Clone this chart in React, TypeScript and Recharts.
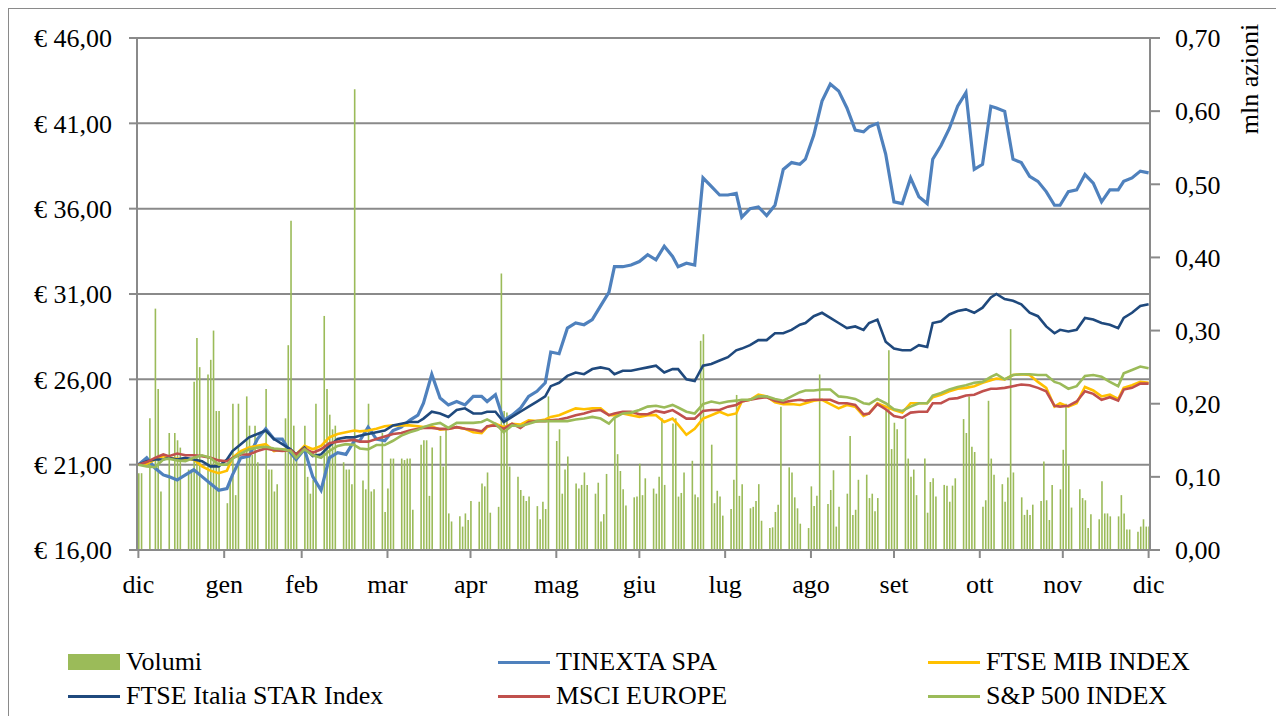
import React from 'react';
import { ComposedChart, Bar, Line, XAxis, YAxis, CartesianGrid } from 'recharts';

// calendar days from 31 dic 2020 to 31 dic 2021, month ticks as in the source sheet
const monthLabels = ['dic', 'gen', 'feb', 'mar', 'apr', 'mag', 'giu', 'lug', 'ago', 'set', 'ott', 'nov', 'dic'];
const monthTickDays = [0, 31, 59, 90, 120, 151, 181, 212, 243, 273, 304, 334, 365];
const priceTicks = [16, 21, 26, 31, 36, 41, 46];
const volumeTicks = [0, 0.1, 0.2, 0.3, 0.4, 0.5, 0.6, 0.7];

const tinexta = [
  21.0, 21.4, 20.8, 20.4, 20.3, 20.1, 20.4, 20.7, 20.3, 19.9,
  19.5, 19.6, 20.4, 21.4, 21.5, 22.5, 23.1, 22.5, 22.5, 21.7,
  21.3, 21.9, 20.3, 19.5, 21.4, 21.7, 21.6, 22.4, 22.4, 23.2,
  22.5, 22.4, 23.0, 23.2, 23.6, 23.9, 24.6, 26.3, 24.9, 24.5,
  24.7, 24.5, 25.0, 25.0, 24.7, 25.1, 23.6, 23.9, 24.3, 25.0,
  25.3, 25.8, 27.6, 27.5, 29.0, 29.3, 29.2, 29.5, 30.3, 31.1,
  32.6, 32.6, 32.7, 32.9, 33.3, 33.0, 33.8, 33.2, 32.6, 32.8,
  32.7, 37.8, 37.3, 36.8, 36.8, 36.9, 35.5, 36.0, 36.1, 35.6,
  36.2, 38.3, 38.7, 38.6, 38.9, 40.3, 42.3, 43.3, 42.9, 41.9,
  40.6, 40.5, 40.8, 41.0, 39.2, 36.4, 36.3, 37.8, 36.7, 36.3,
  38.9, 39.7, 40.7, 42.0, 42.8, 38.3, 38.6, 42.0, 41.9, 41.7,
  38.9, 38.7, 37.9, 37.6, 37.0, 36.2, 36.2, 37.0, 37.1, 38.0,
  37.5, 36.4, 37.1, 37.1, 37.6, 37.8, 38.2, 38.1,
];

const ftseMib = [
  21.0, 21.06, 21.3, 21.5, 21.4, 21.35, 21.3, 21.3, 20.9, 20.65,
  20.5, 20.65, 21.4, 21.8, 22.0, 22.1, 22.2, 21.8, 21.9, 21.8,
  21.6, 22.1, 21.9, 22.1, 22.6, 22.8, 22.9, 23.0, 22.95, 23.0,
  23.1, 23.25, 23.3, 23.3, 23.3, 23.25, 23.2, 23.25, 23.05, 23.1,
  23.2, 23.1, 22.9, 22.85, 23.2, 23.4, 23.2, 23.4, 23.35, 23.6,
  23.55, 23.65, 23.8, 23.9, 24.1, 24.3, 24.25, 24.3, 24.3, 23.9,
  23.9, 24.0, 23.9, 23.8, 23.9, 23.9, 23.5, 23.7, 23.35, 22.75,
  23.1, 23.7, 23.9, 24.1, 23.9, 24.0, 24.7, 24.8, 25.1, 25.0,
  24.65, 24.55, 24.55, 24.5, 24.6, 24.75, 24.8, 24.55, 24.3, 24.5,
  24.4, 23.85, 24.0, 24.6, 24.4, 24.2, 24.05, 24.6, 24.6, 24.6,
  24.95, 25.1, 25.3, 25.45, 25.5, 25.6, 25.8, 25.95, 26.05, 26.0,
  26.25, 26.3, 26.25, 25.85, 25.5, 24.4, 24.6, 24.4, 24.6, 25.55,
  25.35, 25.0, 25.1, 24.85, 25.5, 25.65, 25.85, 25.8,
];

const ftseStar = [
  21.0, 21.2, 21.3, 21.3, 21.4, 21.3, 21.4, 21.3, 21.2, 20.9,
  20.9, 21.3, 21.8, 22.2, 22.6, 22.8, 23.0, 22.5, 22.2, 21.9,
  21.6, 22.0, 21.5, 21.6, 22.1, 22.5, 22.6, 22.6, 22.7, 22.8,
  22.9, 23.0, 23.3, 23.4, 23.5, 23.5, 23.7, 24.1, 24.0, 23.8,
  24.2, 24.3, 24.0, 24.0, 24.1, 24.1, 23.5, 23.8, 24.1, 24.4,
  24.7, 25.0, 25.6, 25.8, 26.2, 26.4, 26.3, 26.6, 26.7, 26.6,
  26.3, 26.5, 26.5, 26.6, 26.7, 26.8, 26.4, 26.6, 26.6, 26.0,
  25.9, 26.8, 26.9, 27.1, 27.3, 27.7, 27.8, 28.0, 28.3, 28.3,
  28.7, 28.7, 28.9, 29.2, 29.3, 29.7, 29.9, 29.6, 29.3, 29.0,
  29.1, 28.9, 29.3, 29.5, 28.2, 27.8, 27.7, 27.7, 28.0, 27.9,
  29.3, 29.4, 29.8, 30.0, 30.1, 29.9, 30.2, 30.8, 31.0, 30.7,
  30.6, 30.4, 29.9, 29.7, 29.1, 28.7, 28.9, 28.8, 28.9, 29.6,
  29.5, 29.3, 29.2, 29.0, 29.6, 29.9, 30.3, 30.4,
];

const msciEurope = [
  21.0, 21.15, 21.4, 21.6, 21.5, 21.65, 21.55, 21.55, 21.5, 21.4,
  21.25, 21.2, 21.4, 21.6, 21.6, 21.8, 21.95, 21.85, 21.8, 21.85,
  21.6, 21.95, 21.7, 21.9, 22.25, 22.35, 22.4, 22.45, 22.35, 22.35,
  22.5, 22.65, 22.8, 22.85, 23.0, 23.1, 23.15, 23.15, 23.1, 23.1,
  23.2, 23.1, 23.05, 22.95, 23.25, 23.3, 23.1, 23.4, 23.15, 23.5,
  23.55, 23.55, 23.6, 23.65, 23.75, 23.9, 24.0, 24.15, 24.2, 23.9,
  24.0, 24.1, 24.1, 23.95, 23.95, 24.15, 24.05, 24.2, 24.0, 23.7,
  23.7, 24.15, 24.2, 24.2, 24.4, 24.5, 24.7, 24.8, 24.9, 24.95,
  24.75, 24.65, 24.75, 24.8, 24.75, 24.8, 24.8, 24.8, 24.6, 24.6,
  24.5, 23.95, 24.0, 24.55, 24.25, 23.85, 23.75, 24.05, 24.1, 24.1,
  24.6, 24.6, 24.85, 24.9, 25.05, 25.1, 25.3, 25.45, 25.45, 25.5,
  25.6, 25.7, 25.65, 25.5, 25.3, 24.45, 24.4, 24.45, 24.7, 25.3,
  25.15, 24.8, 24.95, 24.75, 25.4, 25.5, 25.75, 25.75,
];

const sp500 = [
  21.0, 20.9, 20.85, 21.3, 21.35, 21.25, 21.2, 21.4, 21.55, 21.4,
  21.0, 21.0, 21.35, 21.65, 21.9, 22.0, 22.05, 21.95, 21.9, 21.8,
  21.4, 21.9, 21.55, 21.4, 21.8, 22.1, 22.2, 22.15, 21.95, 21.9,
  22.15, 22.15, 22.4, 22.7, 22.9, 23.05, 23.2, 23.35, 23.45, 23.15,
  23.45, 23.45, 23.45, 23.5, 23.65, 23.4, 22.9, 23.3, 23.25, 23.4,
  23.55, 23.55, 23.55, 23.55, 23.55, 23.65, 23.7, 23.8, 23.7, 23.4,
  23.75, 24.0, 24.05, 24.2, 24.4, 24.45, 24.35, 24.5, 24.35, 24.1,
  24.0, 24.55, 24.7, 24.6, 24.7, 24.75, 24.8, 24.8, 25.0, 25.0,
  24.85, 24.75, 25.0, 25.25, 25.35, 25.35, 25.4, 25.4, 25.0, 24.95,
  24.85, 24.6, 24.55, 24.85, 24.6, 24.25, 24.15, 24.4, 24.6, 24.6,
  25.05, 25.2, 25.4, 25.55, 25.65, 25.8, 25.85, 26.15, 26.3, 26.0,
  26.25, 26.3, 26.3, 26.25, 26.25, 25.85, 25.75, 25.45, 25.6, 26.2,
  26.25, 26.15, 25.85, 25.6, 26.35, 26.55, 26.75, 26.65,
];

// mln shares traded, one value per weekday (0 = no bar in the source)
const volumes = [
  0.105, 0.105,
  0.18, 0, 0.33, 0.22, 0.08,
  0.16, 0, 0.16, 0.15, 0.14,
  0.11, 0.11, 0.23, 0.29, 0.25,
  0.24, 0.26, 0.30, 0.19, 0.19,
  0.064, 0.098, 0.2, 0.075, 0.2,
  0.21, 0.17, 0.13, 0.17, 0.12,
  0.22, 0.11, 0.11, 0.08, 0.09,
  0.18, 0.28, 0.45, 0.17, 0.13,
  0.17, 0.1, 0.077, 0.096, 0.2,
  0.32, 0.22, 0.185, 0.165, 0.17,
  0.12, 0.11, 0.11, 0.09, 0.63,
  0.095, 0.083, 0.2, 0.08, 0.083,
  0.16, 0.052, 0.084, 0.125, 0.125,
  0.125, 0.123, 0.125, 0.125, 0.055,
  0.144, 0.15, 0.15, 0.074, 0.14,
  0.156, 0.114, 0.164, 0.05, 0.039,
  0.046, 0.032, 0.05, 0.041, 0.067,
  0.066, 0.091, 0.087, 0.106, 0.051,
  0.059, 0.378, 0.19, 0.188, 0.114,
  0.1, 0.082, 0.074, 0.067, 0.073,
  0.06, 0.042, 0.066, 0.056, 0.21,
  0.149, 0.165, 0.077, 0.11, 0.128,
  0.091, 0.084, 0.089, 0.106, 0.089,
  0.077, 0.092, 0.039, 0.049, 0.104,
  0.18, 0.131, 0.108, 0.083, 0.061,
  0.072, 0.073, 0.118, 0.075, 0.098,
  0.084, 0.077, 0.1, 0.18, 0.089,
  0.173, 0.18, 0.073, 0.078, 0.106,
  0.122, 0.076, 0.072, 0.286, 0.295,
  0.144, 0.064, 0.081, 0.073, 0.047,
  0.056, 0.096, 0.212, 0.074, 0.09,
  0.057, 0.059, 0.067, 0.09, 0.04,
  0.03, 0.031, 0.052, 0.062, 0.196,
  0.113, 0.106, 0.072, 0.057, 0.036,
  0.03, 0.087, 0.06, 0.074, 0.24,
  0.063, 0.082, 0.109, 0.032, 0.059,
  0.077, 0.156, 0.048, 0.055, 0.096,
  0.103, 0.071, 0.077, 0.053, 0.071,
  0.191, 0.273, 0.138, 0.174, 0.165,
  0.18, 0.125, 0.1, 0.11, 0.075,
  0.125, 0.051, 0.093, 0.098, 0.073,
  0.089, 0.088, 0.066, 0.088, 0.098,
  0.179, 0.16, 0.21, 0.141, 0.134,
  0.059, 0.068, 0.204, 0.125, 0.103,
  0.09, 0.066, 0.099, 0.302, 0.106,
  0.072, 0.048, 0.055, 0.048, 0.062,
  0.067, 0.121, 0.068, 0.041, 0.089,
  0.083, 0.137, 0.2, 0.116, 0.058,
  0.083, 0.071, 0.068, 0.03, 0.049,
  0.042, 0.094, 0.05, 0.05, 0.046,
  0.046, 0.075, 0.05, 0.028, 0.028,
  0.025, 0.032, 0.042, 0.032, 0.032,
];

const DAYS = 366;
const FONT = '"Liberation Serif", "Times New Roman", serif';
const GRID = '#8a8a8a';

type Row = {
  d: number;
  vol?: number | null;
  tin?: number | null;
  mib?: number | null;
  star?: number | null;
  msci?: number | null;
  sp?: number | null;
};

function buildRows(): Row[] {
  const rows: Row[] = [];
  let k = 0;
  for (let d = 0; d < DAYS; d++) {
    const weekend = d % 7 === 2 || d % 7 === 3; // day 0 is a Thursday
    rows.push({
      d,
      vol: weekend ? null : volumes[k++],
      tin: null, mib: null, star: null, msci: null, sp: null,
    });
  }
  // price series were sampled about every third day
  const n = tinexta.length;
  for (let i = 0; i < n; i++) {
    const r = rows[Math.round((i * (DAYS - 1)) / (n - 1))];
    r.tin = tinexta[i];
    r.mib = ftseMib[i];
    r.star = ftseStar[i];
    r.msci = msciEurope[i];
    r.sp = sp500[i];
  }
  return rows;
}

const data = buildRows();

const euro = (v: number) => `€ ${v.toFixed(2).replace('.', ',')}`;
const dec2 = (v: number) => v.toFixed(2).replace('.', ',');

const legendItems = [
  { name: 'Volumi', color: '#9BBB59', bar: true },
  { name: 'TINEXTA SPA', color: '#4F81BD' },
  { name: 'FTSE MIB INDEX', color: '#FFC000' },
  { name: 'FTSE Italia STAR Index', color: '#1F497D' },
  { name: 'MSCI EUROPE', color: '#C0504D' },
  { name: 'S&P 500 INDEX', color: '#9BBB59' },
];

const tickStyle = { fill: '#000', fontSize: 26, fontFamily: FONT };
const axisLine = { stroke: GRID, strokeWidth: 2 };

export default function App() {
  return (
    <div
      style={{
        position: 'relative',
        width: 1275,
        height: 707,
        borderLeft: `1px solid ${GRID}`,
        borderTop: `1px solid ${GRID}`,
        overflow: 'hidden',
        fontFamily: FONT,
        background: '#fff',
      }}
    >
      <ComposedChart
        width={1275}
        height={707}
        data={data}
        margin={{ top: 29, right: 0, bottom: 126, left: 0 }}
        barSize={1.6}
      >
        <CartesianGrid yAxisId="price" vertical={false} stroke={GRID} strokeWidth={2} />
        <XAxis
          dataKey="d"
          type="category"
          ticks={monthTickDays}
          interval={0}
          tickFormatter={(v: number) => monthLabels[monthTickDays.indexOf(v)]}
          height={40}
          tickSize={8}
          tickMargin={17}
          axisLine={axisLine}
          tickLine={axisLine}
          tick={tickStyle}
        />
        <YAxis
          yAxisId="price"
          orientation="left"
          width={128}
          domain={[16, 46]}
          ticks={priceTicks}
          tickFormatter={euro}
          tickSize={8}
          tickMargin={17}
          axisLine={axisLine}
          tickLine={axisLine}
          tick={tickStyle}
        />
        <YAxis
          yAxisId="vol"
          orientation="right"
          width={134}
          domain={[0, 0.7]}
          ticks={volumeTicks}
          tickFormatter={dec2}
          tickSize={10}
          tickMargin={15}
          axisLine={axisLine}
          tickLine={axisLine}
          tick={{ ...tickStyle, textAnchor: 'start' }}
        />
        <Bar yAxisId="vol" dataKey="vol" name="Volumi" fill="#9BBB59" isAnimationActive={false} />
        <Line yAxisId="price" type="linear" dataKey="tin" name="TINEXTA SPA" stroke="#4F81BD" strokeWidth={3.2} dot={false} activeDot={false} connectNulls isAnimationActive={false} />
        <Line yAxisId="price" type="linear" dataKey="mib" name="FTSE MIB INDEX" stroke="#FFC000" strokeWidth={2.6} dot={false} activeDot={false} connectNulls isAnimationActive={false} />
        <Line yAxisId="price" type="linear" dataKey="star" name="FTSE Italia STAR Index" stroke="#1F497D" strokeWidth={2.6} dot={false} activeDot={false} connectNulls isAnimationActive={false} />
        <Line yAxisId="price" type="linear" dataKey="msci" name="MSCI EUROPE" stroke="#C0504D" strokeWidth={2.6} dot={false} activeDot={false} connectNulls isAnimationActive={false} />
        <Line yAxisId="price" type="linear" dataKey="sp" name="S&P 500 INDEX" stroke="#9BBB59" strokeWidth={2.6} dot={false} activeDot={false} connectNulls isAnimationActive={false} />
      </ComposedChart>

      <div
        style={{
          position: 'absolute',
          left: 1241,
          top: 70,
          transform: 'translate(-50%, -50%) rotate(-90deg)',
          fontSize: 26,
          whiteSpace: 'nowrap',
          lineHeight: 1,
        }}
      >
        mln azioni
      </div>

      {/* legend, 3 columns x 2 rows */}
      <div style={{ position: 'absolute', left: 59, top: 636, width: 1200 }}>
        {legendItems.map((it, idx) => (
          <div
            key={it.name}
            style={{
              position: 'absolute',
              left: (idx % 3) * 430,
              top: Math.floor(idx / 3) * 34,
              height: 34,
              display: 'flex',
              alignItems: 'center',
              fontSize: 26,
              whiteSpace: 'nowrap',
            }}
          >
            <span
              style={{
                display: 'inline-block',
                width: 52,
                height: it.bar ? 16 : 3,
                background: it.color,
                marginRight: 6,
              }}
            />
            {it.name}
          </div>
        ))}
      </div>
    </div>
  );
}
